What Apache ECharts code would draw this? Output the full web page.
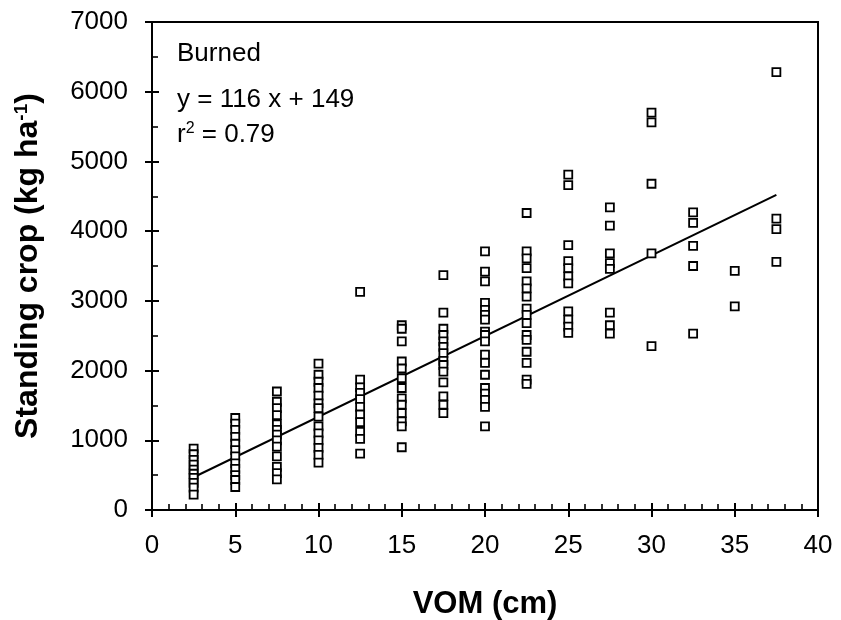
<!DOCTYPE html>
<html>
<head>
<meta charset="utf-8">
<script src="https://cdn.jsdelivr.net/npm/echarts@6/dist/echarts.min.js"></script>
<style>html,body{margin:0;padding:0;background:#fff;}#c{width:841px;height:620px;}</style>
</head>
<body>
<div id="c"></div>
<script>
// VOM levels (cm) and standing crop values (kg/ha)
const vomLevels = [2.5, 5, 7.5, 10, 12.5, 15, 17.5, 20, 22.5, 25, 27.5, 30, 32.5, 35, 37.5];
const crop_2_5 = [880, 800, 720, 650, 580, 520, 460, 390, 320, 220];
const crop_5 = [1320, 1240, 1150, 1050, 950, 860, 770, 670, 590, 500, 430, 330];
const crop_7_5 = [1700, 1550, 1460, 1360, 1230, 1150, 1080, 1000, 910, 770, 620, 530, 440];
const crop_10 = [2100, 1940, 1840, 1750, 1640, 1530, 1460, 1340, 1200, 1100, 1000, 890, 790, 680];
const crop_12_5 = [3130, 1870, 1760, 1680, 1590, 1480, 1370, 1260, 1120, 1020, 810];
const crop_15 = [2650, 2600, 2420, 2130, 2030, 1890, 1750, 1600, 1510, 1390, 1270, 1200, 900];
const crop_17_5 = [3370, 2830, 2600, 2510, 2420, 2340, 2250, 2140, 2080, 1985, 1830, 1630, 1510, 1390];
const crop_20 = [3710, 3420, 3280, 2970, 2870, 2800, 2730, 2560, 2510, 2420, 2230, 2110, 1940, 1750, 1670, 1580, 1480, 1200];
const crop_22_5 = [4260, 3710, 3610, 3470, 3280, 3180, 3060, 2890, 2800, 2680, 2510, 2440, 2270, 2110, 1870, 1810];
const crop_25 = [4810, 4660, 3800, 3570, 3470, 3350, 3250, 2850, 2730, 2630, 2540];
const crop_27_5 = [4340, 4080, 3680, 3540, 3460, 2830, 2650, 2530];
const crop_30 = [5700, 5560, 4680, 3680, 2350];
const crop_32_5 = [4270, 4120, 3790, 3500, 2530];
const crop_35 = [3430, 2920];
const crop_37_5 = [6280, 4180, 4030, 3560];
const cropColumns = [crop_2_5, crop_5, crop_7_5, crop_10, crop_12_5, crop_15, crop_17_5, crop_20,
  crop_22_5, crop_25, crop_27_5, crop_30, crop_32_5, crop_35, crop_37_5];
// Regression line endpoints (y = 116 x + 149) as drawn
const fitX = [2.5, 37.5];
const fitY = [470, 4520];
const xTicks = [0, 5, 10, 15, 20, 25, 30, 35, 40];
const yTicks = [0, 1000, 2000, 3000, 4000, 5000, 6000, 7000];

const points = [];
vomLevels.forEach((v, i) => cropColumns[i].forEach(c => points.push([v, c])));
const fitLine = fitX.map((x, i) => [x, fitY[i]]);

const FONT = "'Liberation Sans', Arial, sans-serif";
const chart = echarts.init(document.getElementById('c'), null, {renderer: 'canvas'});
const baseLine = {show: true, lineStyle: {color: '#000', width: 2}};
const plain = v => String(v);
chart.setOption({
  animation: false,
  backgroundColor: '#fff',
  grid: {left: 152, right: 23, top: 22, bottom: 110, containLabel: false, outerBoundsMode: 'none',
         show: true, borderColor: '#000', borderWidth: 2, backgroundColor: 'transparent'},
  xAxis: [
    {type: 'value', min: xTicks[0], max: xTicks[xTicks.length - 1], interval: 5, position: 'bottom',
     axisLine: baseLine, splitLine: {show: false},
     axisTick: {show: true, inside: false, length: 7, lineStyle: {color: '#000', width: 2}},
     axisLabel: {fontSize: 26, color: '#000', fontFamily: FONT, margin: 23, formatter: plain},
     name: 'VOM (cm)', nameLocation: 'middle', nameGap: 79,
     nameTextStyle: {fontSize: 31, fontWeight: 'bold', color: '#000', fontFamily: FONT}},
    {type: 'value', min: xTicks[0], max: xTicks[xTicks.length - 1], interval: 5, position: 'bottom',
     axisLine: {show: false}, splitLine: {show: false}, axisLabel: {show: false},
     axisTick: {show: true, inside: true, length: 7, lineStyle: {color: '#000', width: 2}},
     minorTick: {show: true, splitNumber: 5, length: 6, lineStyle: {color: '#000', width: 1.6}}}
  ],
  yAxis: [
    {type: 'value', min: yTicks[0], max: yTicks[yTicks.length - 1], interval: 1000, position: 'left',
     axisLine: baseLine, splitLine: {show: false},
     axisTick: {show: true, inside: false, length: 7, lineStyle: {color: '#000', width: 2}},
     axisLabel: {fontSize: 26, color: '#000', fontFamily: FONT, margin: 24, formatter: plain},
     name: 'Standing crop (kg ha{sup|-1})', nameLocation: 'middle', nameGap: 107, nameRotate: 90,
     nameTextStyle: {fontSize: 32, fontWeight: 'bold', color: '#000', fontFamily: FONT,
       rich: {sup: {fontSize: 19, fontWeight: 'bold', color: '#000', fontFamily: FONT, verticalAlign: 'top', padding: [0, 0, 14, 0]}}}},
    {type: 'value', min: yTicks[0], max: yTicks[yTicks.length - 1], interval: 1000, position: 'left',
     axisLine: {show: false}, splitLine: {show: false}, axisLabel: {show: false},
     axisTick: {show: true, inside: true, length: 7, lineStyle: {color: '#000', width: 2}},
     minorTick: {show: true, splitNumber: 2, length: 6, lineStyle: {color: '#000', width: 1.6}}}
  ],
  graphic: [
    {type: 'text', left: 177, top: 41, style: {text: 'Burned', fontSize: 26, fill: '#000', fontFamily: FONT}},
    {type: 'text', left: 177, top: 87, style: {text: 'y = 116 x + 149', fontSize: 26, fill: '#000', fontFamily: FONT}},
    {type: 'text', left: 177, top: 121, style: {text: 'r{s|2} = 0.79', fontSize: 26, fill: '#000', fontFamily: FONT,
      rich: {s: {fontSize: 16, fill: '#000', fontFamily: FONT, verticalAlign: 'top', padding: [0, 0, 12, 0]}}}}
  ],
  series: [
    {type: 'line', data: fitLine, xAxisIndex: 0, yAxisIndex: 0, showSymbol: false, symbol: 'none',
     lineStyle: {color: '#000', width: 2}, z: 3},
    {type: 'scatter', data: points, xAxisIndex: 0, yAxisIndex: 0, symbol: 'rect', symbolSize: 8,
     itemStyle: {color: '#fff', borderColor: '#000', borderWidth: 1.8, opacity: 1}, z: 4}
  ]
});
</script>
</body>
</html>
